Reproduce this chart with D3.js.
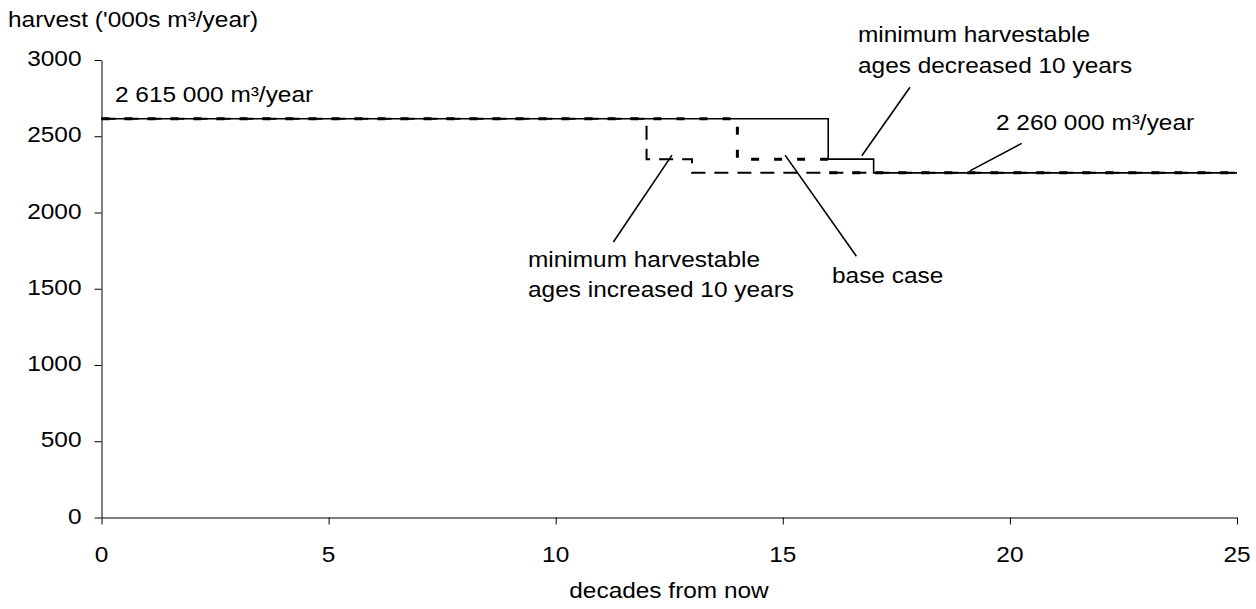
<!DOCTYPE html>
<html>
<head>
<meta charset="utf-8">
<script src="https://cdn.jsdelivr.net/npm/d3@7"></script>
<style>
  html, body { margin: 0; padding: 0; background: #fff; }
  svg { display: block; }
  text { font-family: "Liberation Sans", Arial, sans-serif; fill: #000; font-size: 22px; }
</style>
</head>
<body>
<svg id="chart" width="1256" height="609"></svg>
<script>
// ---- data ----
const decades = d3.range(0, 26);
const baseCase  = [2615,2615,2615,2615,2615,2615,2615,2615,2615,2615,2615,2615,2615,2615,2350,2350,2260,2260,2260,2260,2260,2260,2260,2260,2260,2260];
const increased = [2615,2615,2615,2615,2615,2615,2615,2615,2615,2615,2615,2615,2350,2260,2260,2260,2260,2260,2260,2260,2260,2260,2260,2260,2260,2260];
const decreased = [2615,2615,2615,2615,2615,2615,2615,2615,2615,2615,2615,2615,2615,2615,2615,2615,2350,2260,2260,2260,2260,2260,2260,2260,2260,2260];
const xTicks = [0, 5, 10, 15, 20, 25];
const yTicks = [0, 500, 1000, 1500, 2000, 2500, 3000];
const yTitle = "harvest ('000s m³/year)";
const xTitle = "decades from now";

// ---- layout ----
const svg = d3.select("#chart");
const SX = 1.11;   // horizontal text stretch of the original
const x = d3.scaleLinear().domain([0, 25]).range([101.5, 1237]);
const y = d3.scaleLinear().domain([0, 3000]).range([517.5, 60]);

function label(txt, px, py, anchor) {
  svg.append("text")
    .attr("transform", `translate(${px},${py}) scale(${SX},1)`)
    .attr("text-anchor", anchor || "start")
    .style("font-size", "22px")
    .text(txt);
}

// axes (lines and ticks from d3.axis, labels drawn with the same text style)
const yAxis = d3.axisLeft(y).tickValues(yTicks).tickSize(7).tickSizeOuter(0).tickFormat("");
svg.append("g").attr("transform", `translate(${x(0)},0)`).call(yAxis);
const xAxis = d3.axisBottom(x).tickValues(xTicks).tickSize(7).tickSizeOuter(0).tickFormat("");
svg.append("g").attr("transform", `translate(0,${y(0)})`).call(xAxis);
svg.selectAll(".domain, .tick line").attr("stroke", "#000").attr("stroke-width", 1);

yTicks.forEach(v => label(String(v), x(0) - 20, y(v) + 6, "end"));
xTicks.forEach(v => label(String(v), x(v), y(0) + 44, "middle"));

// ---- series ----
const line = d3.line().x((d, i) => x(decades[i])).y(d => y(d)).curve(d3.curveStepAfter);

svg.append("path").datum(decreased).attr("d", line)
  .attr("fill", "none").attr("stroke", "#000").attr("stroke-width", 1.6);
svg.append("path").datum(increased).attr("d", line)
  .attr("fill", "none").attr("stroke", "#000").attr("stroke-width", 2)
  .attr("stroke-dasharray", "14,9");
svg.append("path").datum(baseCase).attr("d", line)
  .attr("fill", "none").attr("stroke", "#000").attr("stroke-width", 3)
  .attr("stroke-dasharray", "8,15");

// ---- annotations ----
function leader(x1, y1, x2, y2) {
  svg.append("line")
    .attr("x1", x(x1)).attr("y1", y(y1)).attr("x2", x(x2)).attr("y2", y(y2))
    .attr("stroke", "#000").attr("stroke-width", 1.6);
}

label(yTitle, 8, 27);
label(xTitle, 669, 598, "middle");
label("2 615 000 m³/year", 115, 102);
label("minimum harvestable", 858, 42);
label("ages decreased 10 years", 858, 73);
label("2 260 000 m³/year", 996, 130);
label("minimum harvestable", 528, 267);
label("ages increased 10 years", 528, 297);
label("base case", 832, 283);

leader(16.74, 2372, 17.80, 2821);
leader(19.12, 2273, 20.26, 2453);
leader(12.56, 2376, 11.27, 1807);
leader(15.05, 2376, 16.62, 1713);
</script>
</body>
</html>
